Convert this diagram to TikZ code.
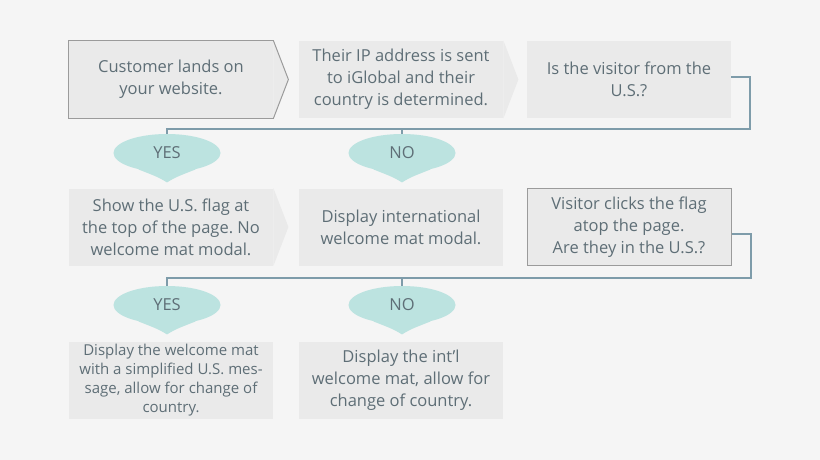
\documentclass[tikz,border=0pt]{standalone}
\usepackage{fontspec}
\setmainfont{Open Sans}
\frenchspacing
\usetikzlibrary{shapes.geometric, backgrounds}
\definecolor{pagebg}{HTML}{F5F5F5}
\definecolor{boxgray}{HTML}{EAEAEA}
\definecolor{framegray}{HTML}{9B9B9B}
\definecolor{textgray}{HTML}{5E6E76}
\definecolor{linkblue}{HTML}{7E9CAA}
\definecolor{answerteal}{HTML}{BCE3E0}
\begin{document}
\begin{tikzpicture}[x=1pt, y=-1pt, thick,
    block/.style={rectangle, fill=boxgray, text=textgray, align=center, minimum width=204pt, minimum height=77pt, inner sep=0pt, font=\fontsize{16.5}{22}\selectfont},
    framed/.style={block, draw=framegray, line width=1pt},
    answer/.style={ellipse, fill=answerteal, text=textgray, minimum width=107pt, minimum height=38pt, inner sep=0pt, font=\fontsize{16.5}{18}\selectfont},
    link/.style={draw=linkblue, line width=2pt}]

\useasboundingbox (0,0) rectangle (820,460);

% Nodes
\node[block] (lands) at (171,79.5) {Customer lands on\\your website.};
\node[block] (ipsent) at (401,79.5) {Their IP address is sent\\to iGlobal and their\\country is determined.};
\node[block] (fromus) at (629,79.5) {Is the visitor from the\\U.S.?};

\node[answer] (yesA) at (167,153) {YES};
\node[answer] (noA) at (402,153) {NO};

\node[block] (showflag) at (171,227) {Show the U.S. flag at\\the top of the page. No\\welcome mat modal.};
\node[block] (intlmat) at (401,227) {Display international\\welcome mat modal.};
\node[framed] (clicks) at (629,227) {Visitor clicks the flag\\atop the page.\\Are they in the U.S.?};

\node[answer] (yesB) at (167,305) {YES};
\node[answer] (noB) at (402,305) {NO};

\node[block, font=\fontsize{15}{19}\selectfont] (usmat) at (171,380.5) {Display the welcome mat\\with a simplified U.S. mes-\\sage, allow for change of\\country.};
\node[block] (intlcountry) at (401,380.5) {Display the int’l\\welcome mat, allow for\\change of country.};

\begin{scope}[on background layer]
  \fill[pagebg] (0,0) rectangle (820,460);
  % Chevrons
  \fill[boxgray] (lands.north east) -- ([xshift=15pt]lands.east) -- (lands.south east) -- cycle;
  \draw[framegray, line width=1pt] (lands.north west) -- (lands.north east) -- ([xshift=15pt]lands.east) -- (lands.south east) -- (lands.south west) -- cycle;
  \fill[boxgray] (ipsent.north east) -- ([xshift=15pt]ipsent.east) -- (ipsent.south east) -- cycle;
  \fill[boxgray] (showflag.north east) -- ([xshift=15pt]showflag.east) -- (showflag.south east) -- cycle;
  % Bubble points
  \foreach \b in {yesA, noA, yesB, noB}
    \fill[answerteal] (\b.-150) .. controls ([yshift=-5pt]\b.-115) .. ([yshift=-10pt]\b.south) .. controls ([yshift=-5pt]\b.-65) .. (\b.-30) -- (\b.center) -- cycle;
\end{scope}

% Arrows
\draw[link] ([yshift=2pt]fromus.east) -- ++(19,0) |- ([yshift=5pt]yesA.north) -- (yesA.north);
\draw[link] (noA.north) -- ++(0,-5);
\draw[link] ([yshift=-7pt]clicks.east) -- ++(19,0) |- ([yshift=8pt]yesB.north) -- (yesB.north);
\draw[link] (noB.north) -- ++(0,-8);

\end{tikzpicture}
\end{document}
